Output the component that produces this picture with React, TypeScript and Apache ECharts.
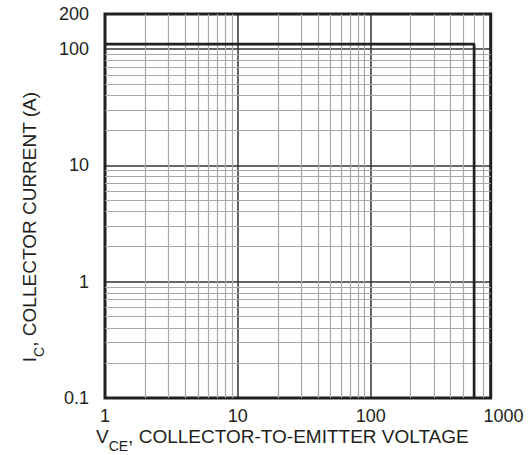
import React, { useEffect, useRef } from "react";
import * as echarts from "echarts";

// Curve (reverse-bias safe operating area boundary)
const vceValues = [1, 600, 600];
const icValues = [110, 110, 0.1];

// Axis ranges
const xRange = [1, 800];
const xLabelRange = [1, 1000];
const yRange = [0.1, 200];

// Tick labels
const xTickLabels = ["1", "10", "100", "1000"];
const yTickLabels = ["0.1", "1", "10", "100", "200"];

// Minor log grid lines
const xMinorLines = [2, 3, 4, 5, 6, 7, 8, 9, 20, 30, 40, 50, 60, 70, 80, 90, 200, 300, 400, 500, 600, 700];
const yMinorLines = [0.2, 0.3, 0.4, 0.5, 0.6, 0.7, 0.8, 0.9, 2, 3, 4, 5, 6, 7, 8, 9, 20, 30, 40, 50, 60, 70, 80, 90];

const FONT = "'Liberation Sans', Arial, Helvetica, sans-serif";
const INK = "#231f20";

function labelFor(list: string[]) {
  return (v: number) => {
    const hit = list.find((l) => Math.abs(Number(l) - v) < 1e-6 * Math.max(1, Math.abs(v)));
    return hit ?? "";
  };
}

const xRich: any = {
  n: { fontSize: 19, fontFamily: FONT, color: INK, lineHeight: 20, verticalAlign: "top" },
  s: { fontSize: 14, fontFamily: FONT, color: INK, lineHeight: 15, padding: [12, 0, 0, 0], verticalAlign: "top" },
};
const yRich: any = {
  n: { fontSize: 19, fontFamily: FONT, color: INK, lineHeight: 20, verticalAlign: "top" },
  s: { fontSize: 14, fontFamily: FONT, color: INK, lineHeight: 15, padding: [12, 0, 0, 0], verticalAlign: "top" },
};

export default function App() {
  const ref = useRef<HTMLDivElement>(null);
  useEffect(() => {
    if (!ref.current) return;
    const chart = echarts.init(ref.current, null, { renderer: "svg" });
    const option: any = {
      animation: false,
      backgroundColor: "#ffffff",
      textStyle: { fontFamily: FONT },
      grid: [
        {
          left: 105,
          top: 14,
          width: 385.7,
          height: 384,
          outerBoundsMode: "none",
          containLabel: false,
          show: true,
          borderColor: INK,
          borderWidth: 3,
          backgroundColor: "transparent",
          z: 3,
        },
        {
          left: 105,
          top: 14,
          width: 398.5,
          height: 384,
          outerBoundsMode: "none",
          containLabel: false,
          show: false,
        },
      ],
      xAxis: [
        {
          gridIndex: 0,
          type: "log",
          logBase: 10,
          min: xRange[0],
          max: xRange[1],
          name: "{n|V}{s|CE}{n|, COLLECTOR-TO-EMITTER VOLTAGE}",
          nameLocation: "middle",
          nameGap: 29,
          nameMoveOverlap: false,
          nameTextStyle: { rich: xRich, padding: [0, 31, 0, 0] },
          axisLine: { show: false },
          axisTick: { show: false },
          axisLabel: { show: false },
          splitLine: { show: true, lineStyle: { color: "#333333", width: 1.5 } },
        },
        {
          gridIndex: 1,
          type: "log",
          logBase: 10,
          min: xLabelRange[0],
          max: xLabelRange[1],
          axisLine: { show: false },
          axisTick: { show: false },
          splitLine: { show: false },
          axisLabel: {
            show: true,
            fontSize: 18,
            fontFamily: FONT,
            color: INK,
            margin: 9,
            lineHeight: 18,
            showMinLabel: true,
            showMaxLabel: true,
            formatter: labelFor(xTickLabels),
          },
        },
      ],
      yAxis: [
        {
          gridIndex: 0,
          type: "log",
          logBase: 10,
          min: yRange[0],
          max: yRange[1],
          name: "{n|I}{s|C}{n|, COLLECTOR CURRENT (A)}",
          nameLocation: "middle",
          nameGap: 65,
          nameRotate: 90,
          nameMoveOverlap: false,
          nameTextStyle: { rich: yRich, padding: [0, 42, 0, 0] },
          axisLine: { show: false },
          axisTick: { show: false },
          axisLabel: {
            show: true,
            fontSize: 18,
            fontFamily: FONT,
            color: INK,
            margin: 16,
            showMinLabel: true,
            showMaxLabel: true,
            formatter: labelFor(yTickLabels),
          },
          splitLine: { show: true, lineStyle: { color: "#333333", width: 1.5 } },
        },
        {
          gridIndex: 1,
          type: "log",
          logBase: 10,
          min: yRange[0],
          max: yRange[1],
          show: false,
        },
      ],
      series: [
        {
          type: "line",
          xAxisIndex: 0,
          yAxisIndex: 0,
          data: [],
          silent: true,
          z: 2,
          markLine: {
            silent: true,
            symbol: ["none", "none"],
            label: { show: false },
            lineStyle: { color: "#a8a8a8", width: 1.2, type: "solid" },
            emphasis: { disabled: true },
            data: [
              ...xMinorLines.map((v) => ({ xAxis: v })),
              ...yMinorLines.map((v) => ({ yAxis: v })),
            ],
          },
        },
        {
          type: "line",
          xAxisIndex: 0,
          yAxisIndex: 0,
          data: vceValues.map((v, i) => [v, icValues[i]]),
          showSymbol: false,
          symbol: "none",
          silent: true,
          z: 10,
          lineStyle: { color: INK, width: 2.7 },
        },
      ],
    };
    chart.setOption(option);
    return () => chart.dispose();
  }, []);
  return (
    <div
      ref={ref}
      style={{ position: "absolute", left: 0, top: 0, width: 532, height: 455, background: "#fff" }}
    />
  );
}
